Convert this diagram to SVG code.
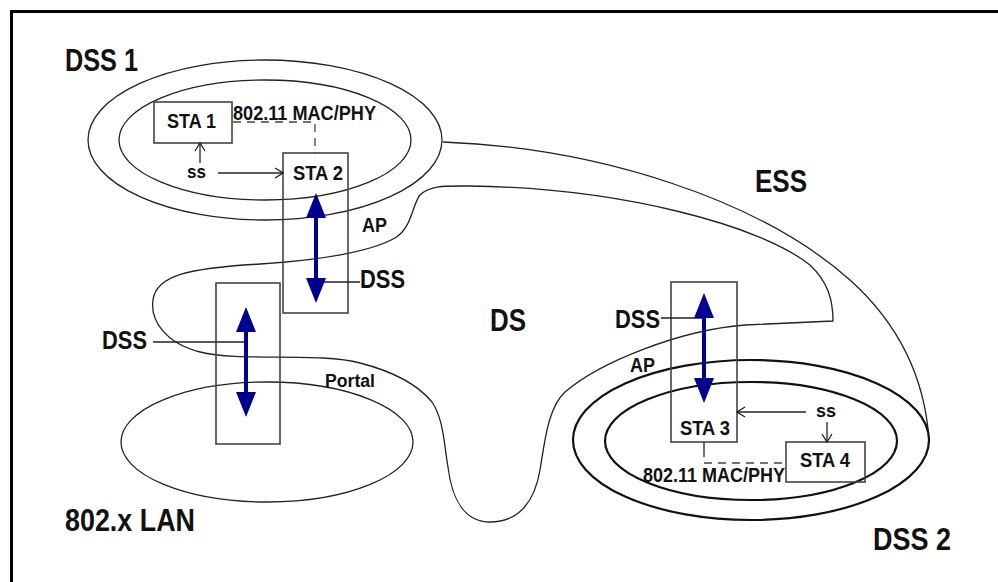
<svg xmlns="http://www.w3.org/2000/svg" width="998" height="582" viewBox="0 0 998 582">
<style>
text{font-family:"Liberation Sans",Arial,sans-serif;font-weight:bold;fill:#111}
.big{font-size:32px}
.mid{font-size:25px}
.sm{font-size:20px}
.xs{font-size:18px}
.line{fill:none;stroke:#222;stroke-width:1.3}
.thick{fill:none;stroke:#111;stroke-width:2.2}
.box{fill:none;stroke:#444;stroke-width:1.6}
.dash{fill:none;stroke:#444;stroke-width:1.3;stroke-dasharray:8 6}
.lead{fill:none;stroke:#222;stroke-width:1.3}
.blue{fill:none;stroke:#000090;stroke-width:4}
.head{fill:#000090}
</style>
<defs>
<marker id="open" viewBox="0 0 10 12" refX="9" refY="6" markerWidth="10" markerHeight="12" markerUnits="userSpaceOnUse" orient="auto">
<path d="M1,1 L9,6 L1,11" fill="none" stroke="#222" stroke-width="1.3"/>
</marker>
</defs>
<rect width="998" height="582" fill="#fff"/>
<path d="M11.5,582 V11.5 H998" fill="none" stroke="#000" stroke-width="3"/>

<g id="ess">
<path class="line" d="M443,142 C600,148 760,200 850,280 C900,325 925,380 929,440"/>
<text class="big" x="755" y="192" textLength="52" lengthAdjust="spacingAndGlyphs">ESS</text>
</g>

<g id="ds">
<path class="line" d="M833,321 L745,325 C680,330 600,362 565,392 C548,408 545,440 540,470 C535,500 520,522 490,522 C465,522 452,500 448,467 C444,445 444,420 432,402 C418,385 395,372 360,363 C320,352 240,362 200,352 C165,343 150,320 153,300 C156,275 190,268 260,264 C320,260 370,252 395,238 C412,228 412,205 420,195 C430,185 445,186 470,186 C620,188 760,225 810,265 C828,282 833,300 833,321 Z"/>
<text class="big" x="490" y="331" textLength="36" lengthAdjust="spacingAndGlyphs">DS</text>
</g>

<g id="dss1">
<ellipse class="line" cx="265" cy="140" rx="177" ry="80"/>
<ellipse class="line" cx="265" cy="140" rx="146" ry="60"/>
<text class="big" x="65" y="71" textLength="73" lengthAdjust="spacingAndGlyphs">DSS 1</text>
</g>

<g id="lan">
<ellipse class="line" cx="267" cy="442" rx="146" ry="60"/>
<text class="big" x="65" y="531" textLength="130" lengthAdjust="spacingAndGlyphs">802.x LAN</text>
</g>

<g id="dss2">
<ellipse class="thick" cx="751" cy="440" rx="178" ry="80"/>
<ellipse class="thick" cx="751" cy="441" rx="146" ry="59"/>
<text class="big" x="873" y="550" textLength="78" lengthAdjust="spacingAndGlyphs">DSS 2</text>
</g>

<g id="sta1">
<rect class="box" x="154" y="102" width="78" height="41" fill="#fff"/>
<text class="sm" x="167" y="128" textLength="49" lengthAdjust="spacingAndGlyphs">STA 1</text>
</g>

<g id="sta2">
<rect class="box" x="283" y="153" width="65" height="160"/>
<text class="sm" x="293" y="180" textLength="50" lengthAdjust="spacingAndGlyphs">STA 2</text>
<text class="sm" x="362" y="232" textLength="25" lengthAdjust="spacingAndGlyphs">AP</text>
<text class="mid" x="360" y="288" textLength="45" lengthAdjust="spacingAndGlyphs">DSS</text>
</g>

<g id="portal">
<rect class="box" x="216" y="283" width="64" height="161"/>
<text class="mid" x="102" y="349" textLength="45" lengthAdjust="spacingAndGlyphs">DSS</text>
<text class="xs" x="325" y="387" textLength="50" lengthAdjust="spacingAndGlyphs">Portal</text>
</g>

<g id="sta3">
<rect class="box" x="671" y="282" width="66" height="160"/>
<text class="sm" x="680" y="435" textLength="50" lengthAdjust="spacingAndGlyphs">STA 3</text>
<text class="sm" x="630" y="372" textLength="25" lengthAdjust="spacingAndGlyphs">AP</text>
<text class="mid" x="615" y="328" textLength="45" lengthAdjust="spacingAndGlyphs">DSS</text>
</g>

<g id="sta4">
<rect class="box" x="786" y="442" width="79" height="40" fill="#fff"/>
<text class="sm" x="800" y="467" textLength="50" lengthAdjust="spacingAndGlyphs">STA 4</text>
</g>

<g id="labels">
<text class="xs" x="187" y="178" textLength="19" lengthAdjust="spacingAndGlyphs">ss</text>
<text class="xs" x="816" y="417" textLength="20" lengthAdjust="spacingAndGlyphs">ss</text>
<text class="sm" x="233" y="120" textLength="143" lengthAdjust="spacingAndGlyphs">802.11 MAC/PHY</text>
<text class="sm" x="643" y="482" textLength="142" lengthAdjust="spacingAndGlyphs">802.11 MAC/PHY</text>
</g>

<g id="connectors">
<path class="dash" d="M233,122 H315 V153"/>
<path class="lead" d="M704,442 V457"/>
<path class="dash" d="M704,463 H786"/>
<path class="lead" d="M218,173 H283" marker-end="url(#open)"/>
<path class="lead" d="M200,163 V143" marker-end="url(#open)"/>
<path class="lead" d="M806,412 H737" marker-end="url(#open)"/>
<path class="lead" d="M827,422 V442" marker-end="url(#open)"/>
<path class="lead" d="M316,282 H360"/>
<path class="lead" d="M153,342 H246"/>
<path class="lead" d="M661,318 H704"/>
<path class="blue" d="M316,215 V281"/>
<polygon class="head" points="316,193 306,218 326,218"/>
<polygon class="head" points="316,303 306,278 326,278"/>
<path class="blue" d="M246,329 V395"/>
<polygon class="head" points="246,307 236,332 256,332"/>
<polygon class="head" points="246,417 236,392 256,392"/>
<path class="blue" d="M704,315 V381"/>
<polygon class="head" points="704,293 694,318 714,318"/>
<polygon class="head" points="704,403 694,378 714,378"/>
</g>
</svg>
